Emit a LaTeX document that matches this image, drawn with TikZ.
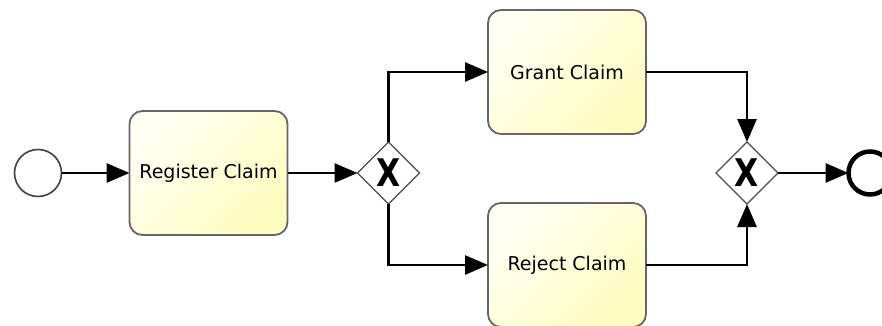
\documentclass[tikz,border=0pt]{standalone}
\usepackage{fontspec}
\setmainfont{DejaVu Sans}
\usepackage{graphicx}
\usepackage{tikz}
\usetikzlibrary{shapes.geometric,positioning,arrows.meta}
\definecolor{taskline}{HTML}{666666}
\definecolor{tasklight}{HTML}{FFFFF4}
\definecolor{taskdark}{HTML}{FEFDC0}

\begin{document}
\begin{tikzpicture}[
  x=1pt, y=-1pt,
  every node/.style={outer sep=0pt},
  task/.style={draw=taskline, line width=1.8pt, rectangle, rounded corners=13pt,
    minimum width=158pt, minimum height=124pt,
    top color=tasklight, bottom color=taskdark, shading angle=45,
    font=\fontsize{19}{23}\selectfont},
  gateway/.style={draw=black!70, line width=1.3pt, diamond, fill=white, inner sep=0pt,
    minimum width=62pt, minimum height=62pt,
    font=\fontsize{34}{34}\selectfont\bfseries},
  startevent/.style={draw=black!75, line width=1.6pt, circle, fill=white, minimum size=47pt},
  endevent/.style={draw=black, line width=4.5pt, circle, fill=white, minimum size=43pt},
  flow/.style={-{Triangle[length=23pt, width=19pt]}, line width=2.8pt}
]
\useasboundingbox (0,0) rectangle (882,326);
\node[startevent] (start) at (38,173) {};
\node[task, right=68pt of start] (register) {Register Claim};
\node[gateway, right=70pt of register] (split) {\scalebox{0.92}[1.12]{X}};
\node[task] (grant) at (567,72) {Grant Claim};
\node[task] (reject) at (567,265) {Reject Claim};
\node[gateway] (join) at (747,173) {\scalebox{0.92}[1.12]{X}};
\node[endevent] (end) at (870,173) {};
\draw[flow] (start) -- (register);
\draw[flow] (register) -- (split);
\draw[flow] (split.north) |- (grant.west);
\draw[flow] (split.south) |- (reject.west);
\draw[flow] (grant.east) -| (join.north);
\draw[flow] (reject.east) -| (join.south);
\draw[flow] (join) -- (end);
\end{tikzpicture}
\end{document}
